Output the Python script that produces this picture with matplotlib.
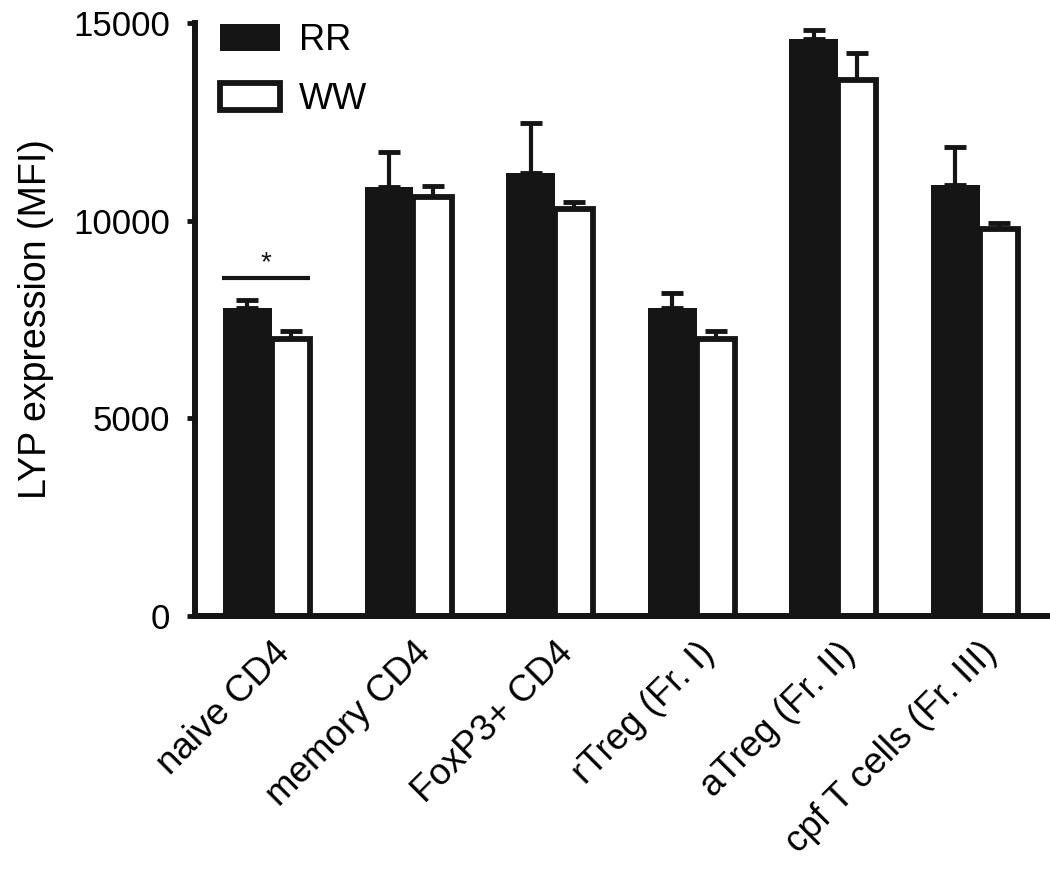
import numpy as np
import matplotlib.pyplot as plt

plt.rcParams['font.family'] = ['Liberation Sans', 'DejaVu Sans']

# data
cells = ['naive CD4', 'memory CD4', 'FoxP3+ CD4', 'rTreg (Fr. I)',
         'aTreg (Fr. II)', 'cpf T cells (Fr. III)']
rr_mean = [7800, 10850, 11200, 7800, 14600, 10900]
rr_err = [200, 890, 1270, 380, 230, 960]
ww_mean = [7000, 10600, 10300, 7000, 13550, 9800]
ww_err = [200, 280, 170, 200, 680, 130]
yticks = [0, 5000, 10000, 15000]

fig = plt.figure(figsize=(10.5, 8.69), dpi=100)
ax = fig.add_axes([0.1857, 0.2911, 0.8143, 0.6824])

x = np.arange(len(cells))
w_rr = 0.346
w_ww = 0.27
black = '#151515'

# RR bars: solid black, left of the group centre
b1 = ax.bar(x, rr_mean, width=-w_rr, align='edge', color=black,
            edgecolor=black, linewidth=0, label='RR', zorder=2)
# WW bars: white with thick black outline, right of the centre
b2 = ax.bar(x, ww_mean, width=w_ww, align='edge', color='white',
            edgecolor=black, linewidth=4.2, label='WW', zorder=2)

# upward-only error bars
ax.errorbar(x - w_rr / 2, rr_mean, yerr=[np.zeros(len(x)), rr_err],
            fmt='none', ecolor=black, elinewidth=3, capsize=8, capthick=3.5,
            zorder=1)
ax.errorbar(x + w_ww / 2, ww_mean, yerr=[np.zeros(len(x)), ww_err],
            fmt='none', ecolor=black, elinewidth=3, capsize=8, capthick=3.5,
            zorder=1)

# significance bracket over naive CD4
ax.plot([-0.353, 0.27], [8550, 8550], color=black, lw=3, solid_capstyle='butt')
ax.text(-0.04, 8600, '*', ha='center', va='bottom', fontsize=20, color=black)

ax.set_xlim(-0.544, 5.498)
ax.set_ylim(0, 15000)
ax.set_yticks(yticks)
ax.set_yticklabels([str(t) for t in yticks])
ax.set_xticks(x)
ax.set_xticklabels(cells, rotation=45, ha='right', va='top',
                   rotation_mode='anchor')

for s in ['top', 'right']:
    ax.spines[s].set_visible(False)
for s in ['left', 'bottom']:
    ax.spines[s].set_linewidth(4.3)
    ax.spines[s].set_color(black)
    ax.spines[s].set_capstyle('projecting')

ax.tick_params(axis='y', length=6, width=3.5, labelsize=25, pad=12,
               color=black)
ax.tick_params(axis='x', length=2, width=1.5, labelsize=26.5, pad=12,
               color=black)
ax.set_ylabel('LYP expression (MFI)', fontsize=27, labelpad=14)

ax.legend(handles=[b1, b2], loc='upper left', bbox_to_anchor=(0.029, 1.0),
          frameon=False, fontsize=26, borderpad=0, borderaxespad=0,
          handlelength=1.66, handleheight=0.8, handletextpad=0.52,
          labelspacing=0.66)

fig.savefig('out.png', dpi=100)
